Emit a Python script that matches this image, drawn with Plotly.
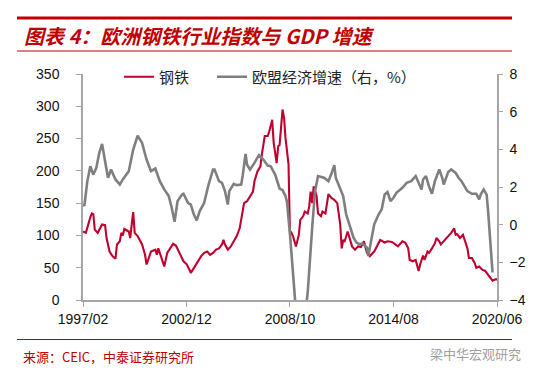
import plotly.graph_objects as go

# ---------------- data ----------------
steel_dates = ["1997-02","1997-04","1997-07","1997-08","1997-09","1997-10","1997-12","1998-03","1998-05","1998-06",
               "1998-08","1998-10","1998-12","1999-01","1999-03","1999-04","1999-05","1999-06","1999-09","1999-10",
               "1999-11","1999-12","2000-01","2000-03","2000-06","2000-08","2000-09","2000-11","2000-12","2001-03",
               "2001-04","2001-05","2001-07","2001-09","2001-11","2002-01","2002-03","2002-05","2002-08","2002-10",
               "2002-12","2003-01","2003-02","2003-03","2003-05","2003-07","2003-08","2003-10","2003-12","2004-02",
               "2004-04","2004-06","2004-08","2004-10","2004-12","2005-01","2005-02","2005-04","2005-06","2005-08",
               "2005-10","2005-12","2006-01","2006-03","2006-05","2006-07","2006-09","2006-10","2006-12","2007-02",
               "2007-03","2007-05","2007-07","2007-08","2007-10","2007-11","2008-01","2008-02","2008-03","2008-05",
               "2008-06","2008-07","2008-09","2008-10","2008-11","2008-12","2009-02","2009-04","2009-05","2009-07",
               "2009-08","2009-10","2009-11","2009-12","2010-01","2010-02","2010-04","2010-05","2010-07","2010-08",
               "2010-10","2010-12","2011-02","2011-04","2011-06","2011-08","2011-09","2011-10","2011-11","2012-01",
               "2012-02","2012-04","2012-06","2012-08","2012-10","2012-12","2013-02","2013-04","2013-07","2013-09",
               "2013-11","2014-02","2014-04","2014-07","2014-09","2014-11","2015-02","2015-04","2015-06","2015-07",
               "2015-09","2015-11","2016-01","2016-02","2016-04","2016-05","2016-07","2016-08","2016-10","2016-12",
               "2017-01","2017-03","2017-04","2017-06","2017-07","2017-09","2017-11","2018-01","2018-02","2018-03",
               "2018-05","2018-07","2018-08","2018-10","2018-11","2019-01","2019-03","2019-04","2019-06","2019-08",
               "2019-10","2019-12","2020-02","2020-03","2020-05","2020-06"]
steel_vals = [106,104,128,134,133,109,104,117,116,96,
              75,68,64,86,91,104,100,110,106,96,
              117,136,104,99,86,70,55,70,75,78,
              70,80,65,52,73,80,87,84,70,60,
              56,50,47,42,50,57,60,68,73,75,
              70,73,78,80,86,93,86,78,83,91,
              99,111,127,150,153,161,168,184,199,207,
              225,254,254,261,279,243,212,238,240,295,
              282,251,210,101,104,99,83,101,124,130,
              137,134,145,168,150,176,161,134,130,137,
              134,164,158,155,150,117,80,93,91,106,
              99,83,78,83,82,91,73,68,75,83,
              93,89,91,90,86,83,91,89,80,62,
              60,62,45,55,69,62,75,73,80,88,
              96,91,86,91,95,99,104,111,101,102,
              96,101,93,80,65,65,57,50,52,47,
              45,39,32,30,32,32]

gdp_dates = ["1997-02","1997-03","1997-05","1997-07","1997-09","1997-11","1998-01","1998-03","1998-05","1998-07",
             "1998-09","1998-12","1999-03","1999-05","1999-09","1999-12","2000-03","2000-06","2000-09","2000-12",
             "2001-03","2001-06","2001-09","2001-12","2002-02","2002-04","2002-06","2002-09","2002-10","2003-01",
             "2003-03","2003-05","2003-07","2003-09","2003-12","2004-03","2004-06","2004-07","2004-10","2004-12",
             "2005-02","2005-04","2005-05","2005-08","2005-10","2006-01","2006-02","2006-04","2006-05","2006-07",
             "2006-10","2007-01","2007-04","2007-07","2007-09","2007-12","2008-03","2008-05","2008-07","2008-08",
             "2008-10","2008-12","2009-02","2009-05","2009-08","2009-10","2009-11","2010-01","2010-03","2010-05",
             "2010-09","2010-12","2011-02","2011-04","2011-05","2011-08","2011-10","2011-12","2012-02","2012-05",
             "2012-07","2012-09","2012-11","2013-02","2013-03","2013-05","2013-07","2013-10","2013-12","2014-02",
             "2014-04","2014-06","2014-08","2014-10","2015-02","2015-05","2015-08","2015-11","2016-01","2016-03",
             "2016-04","2016-06","2016-08","2016-10","2016-12","2017-03","2017-05","2017-06","2017-09","2017-11",
             "2018-02","2018-04","2018-06","2018-10","2019-01","2019-04","2019-06","2019-07","2019-09","2019-11",
             "2019-12","2020-02","2020-03"]
gdp_vals = [1.07,1.0,2.3,3.1,2.66,3.0,3.8,4.29,3.37,2.49,
            2.93,2.4,2.13,2.4,2.84,3.99,4.73,4.34,3.46,2.84,
            2.98,2.31,1.87,1.52,0.9,0.15,1.25,1.6,1.64,1.16,
            1.07,0.55,0.23,0.72,1.16,2.13,2.93,2.93,2.31,2.22,
            1.78,1.07,1.78,2.17,2.1,2.13,2.6,3.76,3.19,2.93,
            3.28,3.69,3.46,3.14,3.1,2.66,1.92,1.83,1.52,1.2,
            -0.5,-2.6,-4.6,-5.5,-5.0,-3.6,-2.6,-0.16,1.78,2.58,
            2.49,2.31,2.7,3.16,2.49,1.87,1.52,0.55,0.02,-0.69,
            -0.95,-1.04,-1.0,-1.22,-1.66,-0.86,0.02,0.55,0.81,1.6,
            1.73,1.25,1.43,1.69,1.96,2.22,2.31,2.58,2.22,1.87,
            2.4,2.58,2.04,1.64,2.31,2.93,2.49,2.13,2.8,2.93,
            2.75,2.49,2.31,1.78,1.64,1.64,1.34,1.6,1.87,1.6,
            0.72,-1.22,-2.54]

x_tick_vals = ["1997-02-01", "2002-12-01", "2008-10-01", "2014-08-01", "2020-06-01"]
x_tick_text = ["1997/02", "2002/12", "2008/10", "2014/08", "2020/06"]
left_ticks = [0, 50, 100, 150, 200, 250, 300, 350]
right_ticks = [-4, -2, 0, 2, 4, 6, 8]

steel_name = "钢铁"
gdp_name = "欧盟经济增速（右，%）"
title_text = "图表 4：欧洲钢铁行业指数与 GDP 增速"
source_text = "来源：CEIC，中泰证券研究所"
watermark_text = "梁中华宏观研究"

# ---------------- styling ----------------
W, H = 540, 374
L, R, T, B = 75, 51, 66, 82
RED = "#C0002F"
GRAY = "#7F7F7F"
AXIS = "#A6A6A6"
TITLE_RED = "#C00000"
CJK = "Noto Sans CJK SC"
NUM = "Liberation Sans, Arial, sans-serif"

pw, ph = W - L - R, H - T - B
def px(x):
    return (x - L) / pw
def py(y):
    return (H - B - y) / ph

fig = go.Figure()
fig.add_trace(go.Scatter(x=steel_dates, y=steel_vals, name=steel_name, mode="lines",
                         line=dict(color=RED, width=2.1), yaxis="y", legend="legend"))
fig.add_trace(go.Scatter(x=gdp_dates, y=gdp_vals, name=gdp_name, mode="lines",
                         line=dict(color=GRAY, width=2.6), yaxis="y2", legend="legend2"))

legend_common = dict(orientation="h", xanchor="left", yanchor="middle",
                     bgcolor="rgba(0,0,0,0)", font=dict(family=CJK, size=15, color="#222"),
                     itemwidth=30)

fig.update_layout(
    width=W, height=H,
    margin=dict(l=L, r=R, t=T, b=B),
    paper_bgcolor="white", plot_bgcolor="white",
    showlegend=True,
    legend=dict(x=px(111), y=py(69), **legend_common),
    legend2=dict(x=px(204), y=py(69), **legend_common),
    xaxis=dict(type="date", range=["1997-02-01", "2020-06-01"], tickvals=x_tick_vals,
               ticktext=x_tick_text, showgrid=False, zeroline=False, showline=True,
               linecolor=AXIS, linewidth=1.5, ticks="outside", ticklen=5, tickcolor=AXIS,
               tickfont=dict(family=NUM, size=14, color="#111")),
    yaxis=dict(range=[0, 350], tickvals=left_ticks, showgrid=False, zeroline=False,
               showline=True, linecolor=AXIS, linewidth=1.5, ticks="outside", ticklen=5,
               tickcolor=AXIS, tickfont=dict(family=NUM, size=14, color="#111"),
               ticklabelstandoff=14),
    yaxis2=dict(range=[-4, 8], tickvals=right_ticks, overlaying="y", side="right",
                showgrid=False, zeroline=False, showline=True, linecolor=AXIS, linewidth=1.5,
                ticks="outside", ticklen=4, tickcolor=AXIS,
                tickfont=dict(family=NUM, size=14, color="#111"), ticklabelstandoff=4),
)

shapes = [
    dict(type="line", xref="paper", yref="paper", x0=px(9), x1=px(504), y0=py(10), y1=py(10),
         line=dict(color=TITLE_RED, width=3)),
    dict(type="line", xref="paper", yref="paper", x0=px(9), x1=px(504), y0=py(43), y1=py(43),
         line=dict(color=TITLE_RED, width=1.2)),
    dict(type="line", xref="paper", yref="paper", x0=px(9), x1=px(504), y0=py(331.5), y1=py(331.5),
         line=dict(color=TITLE_RED, width=1.2)),
]
fig.update_layout(shapes=shapes)

fig.add_annotation(text="<b><i>" + title_text + "</i></b>", xref="paper", yref="paper",
                   x=px(14), y=py(27), xanchor="left", yanchor="middle", showarrow=False,
                   font=dict(family=CJK, size=20, color=TITLE_RED))
fig.add_annotation(text=source_text, xref="paper", yref="paper",
                   x=px(13), y=py(348), xanchor="left", yanchor="middle", showarrow=False,
                   font=dict(family=CJK, size=13, color=TITLE_RED))
fig.add_annotation(text=watermark_text, xref="paper", yref="paper",
                   x=px(420), y=py(345), xanchor="left", yanchor="middle", showarrow=False,
                   font=dict(family=CJK, size=13, color="#A0A0A0"))

fig.write_html("out.html")
